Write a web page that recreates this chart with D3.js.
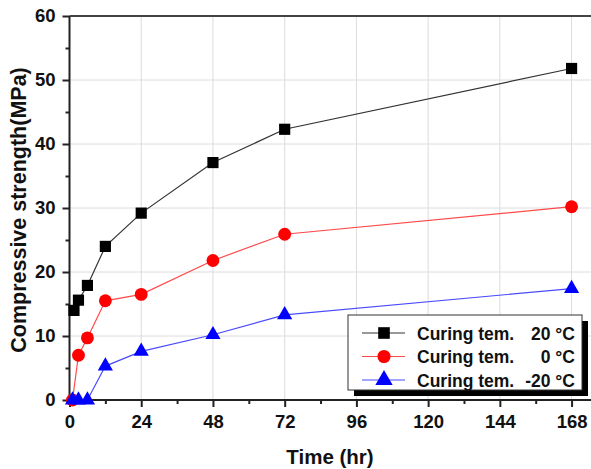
<!DOCTYPE html>
<html>
<head>
<script src="https://cdnjs.cloudflare.com/ajax/libs/d3/7.8.5/d3.min.js"></script>
<style>
  body { margin: 0; background: #fff; }
  text { font-family: "Liberation Sans", Arial, sans-serif; font-weight: bold; }
</style>
</head>
<body>
<script>
// data
var times20 = [1.5, 3, 6, 12, 24, 48, 72, 168];
var strength20 = [14.0, 15.6, 17.9, 24.0, 29.2, 37.1, 42.3, 51.8];
var times0 = [1, 3, 6, 12, 24, 48, 72, 168];
var strength0 = [0, 7.0, 9.7, 15.5, 16.5, 21.8, 25.9, 30.2];
var timesM20 = [1, 3, 6, 12, 24, 48, 72, 168];
var strengthM20 = [0, 0, 0, 5.3, 7.6, 10.2, 13.3, 17.4];
var xTicks = [0, 24, 48, 72, 96, 120, 144, 168];
var yTicks = [0, 10, 20, 30, 40, 50, 60];
var legendLabels = ["20 °C", "0 °C", "-20 °C"];

var W = 591, H = 469;
var margin = {top: 16, right: 0, bottom: 69, left: 69.5};
var width = W - margin.left - margin.right,
    height = H - margin.top - margin.bottom;

var svg = d3.select("body").append("svg")
    .attr("width", W).attr("height", H);
var g = svg.append("g")
    .attr("transform", "translate(" + margin.left + "," + margin.top + ")");

var x = d3.scaleLinear().domain([0, 174.5]).range([0, width]);
var y = d3.scaleLinear().domain([0, 60]).range([height, 0]);

// grid
g.selectAll(".gx").data(xTicks.slice(1)).enter().append("line")
    .attr("x1", d => x(d)).attr("x2", d => x(d))
    .attr("y1", 0).attr("y2", height)
    .attr("stroke", "#dcdcdc").attr("stroke-width", 1);
g.selectAll(".gy").data(yTicks.slice(1, -1)).enter().append("line")
    .attr("x1", 0).attr("x2", width)
    .attr("y1", d => y(d)).attr("y2", d => y(d))
    .attr("stroke", "#dcdcdc").attr("stroke-width", 1);

// top border
g.append("line").attr("x1", 0).attr("x2", width).attr("y1", 0).attr("y2", 0)
    .attr("stroke", "#444").attr("stroke-width", 2);

// axes
var xAxis = g.append("g").attr("transform", "translate(0," + height + ")")
    .call(d3.axisBottom(x).tickValues(xTicks).tickSize(7).tickPadding(8));
var xMinor = g.append("g").attr("transform", "translate(0," + height + ")")
    .call(d3.axisBottom(x).tickValues(d3.range(12, 175, 24)).tickSize(4).tickFormat(""));
var yAxis = g.append("g")
    .call(d3.axisLeft(y).tickValues(yTicks).tickSize(7).tickPadding(7));
var yMinor = g.append("g")
    .call(d3.axisLeft(y).tickValues(d3.range(5, 60, 10)).tickSize(4).tickFormat(""));

[xAxis, xMinor, yAxis, yMinor].forEach(function(a) {
  a.select(".domain").attr("stroke", "#222").attr("stroke-width", 2);
  a.selectAll(".tick line").attr("stroke", "#222").attr("stroke-width", 2);
  a.selectAll(".tick text").attr("font-size", 18.5).attr("fill", "#111")
    .style("font-family", "'Liberation Sans', Arial, sans-serif").style("font-weight", "bold");
});
xAxis.select(".domain").attr("d", "M0,0H" + width);
xMinor.select(".domain").remove();
yAxis.select(".domain").attr("d", "M0," + height + "V0");
yMinor.select(".domain").remove();

// titles
svg.append("text").attr("x", 330).attr("y", 464).attr("text-anchor", "middle")
    .attr("font-size", 20.5).attr("fill", "#111").text("Time (hr)");
svg.append("text").attr("transform", "translate(26," + (margin.top + height / 2 + 2) + ") rotate(-90)")
    .attr("text-anchor", "middle").attr("font-size", 21.5).attr("fill", "#111")
    .text("Compressive strength(MPa)");

var series = [
  {t: times20, v: strength20, line: "#333", fill: "#000", shape: d3.symbolSquare, size: 125, lsize: 135},
  {t: times0, v: strength0, line: "#ff4a4a", fill: "#ff0000", shape: d3.symbolCircle, size: 130, lsize: 135},
  {t: timesM20, v: strengthM20, line: "#4a4aff", fill: "#0000ff", shape: d3.symbolTriangle, size: 100, lsize: 130}
];

var line = d3.line().x(d => x(d[0])).y(d => y(d[1]));

series.forEach(function(s) {
  var pts = s.t.map((t, i) => [t, s.v[i]]);
  g.append("path").datum(pts).attr("d", line)
    .attr("fill", "none").attr("stroke", s.line).attr("stroke-width", 1.2);
  g.selectAll(null).data(pts).enter().append("path")
    .attr("transform", d => "translate(" + x(d[0]) + "," + y(d[1]) + ")")
    .attr("d", d3.symbol().type(s.shape).size(s.size))
    .attr("fill", s.fill);
});

// legend
var lg = svg.append("g").attr("transform", "translate(348,315)");
lg.append("rect").attr("x", 6).attr("y", 6).attr("width", 234).attr("height", 75).attr("fill", "#000");
lg.append("rect").attr("x", 0).attr("y", 0).attr("width", 234).attr("height", 75)
    .attr("fill", "#fff").attr("stroke", "#333").attr("stroke-width", 1);
series.forEach(function(s, i) {
  var ry = 18 + i * 23.5;
  lg.append("line").attr("x1", 14).attr("x2", 57).attr("y1", ry).attr("y2", ry)
    .attr("stroke", s.line).attr("stroke-width", 1.2);
  lg.append("path").attr("transform", "translate(36," + ry + ")")
    .attr("d", d3.symbol().type(s.shape).size(s.lsize)).attr("fill", s.fill);
  lg.append("text").attr("x", 69).attr("y", ry + 6.5).attr("font-size", 17.5).attr("fill", "#111")
    .text("Curing tem.");
  lg.append("text").attr("x", 227).attr("y", ry + 6.5).attr("font-size", 17.5).attr("fill", "#111")
    .attr("text-anchor", "end").text(legendLabels[i]);
});
</script>
</body>
</html>
